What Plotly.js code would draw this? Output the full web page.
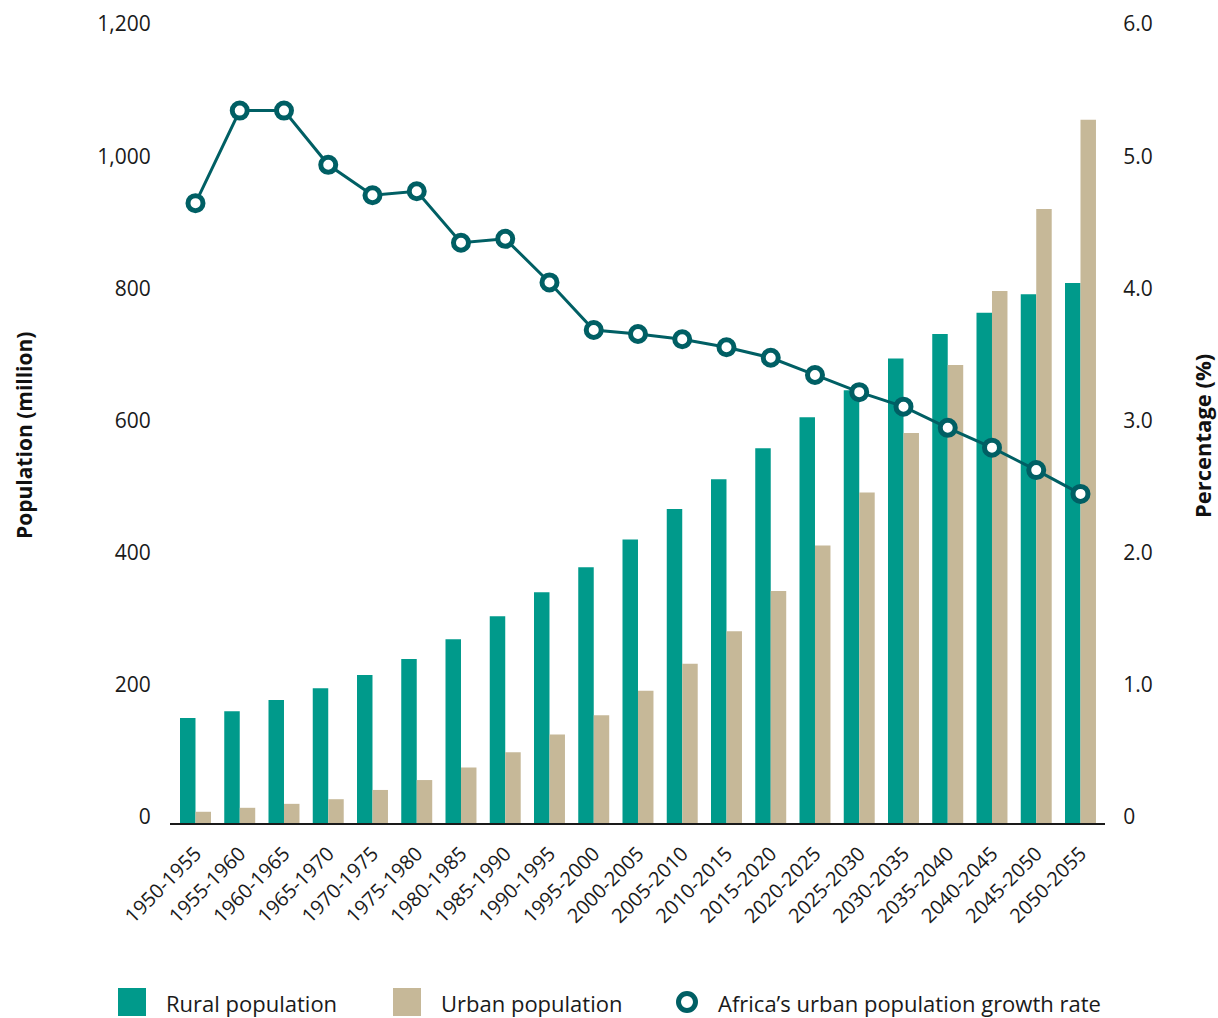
<!DOCTYPE html>
<html>
<head>
<meta charset="utf-8">
<script src="https://cdn.plot.ly/plotly-3.0.1.min.js"></script>
<style>
  html, body { margin: 0; padding: 0; background: #ffffff; }
  #chart { width: 1218px; height: 1018px; }
</style>
</head>
<body>
<div id="chart"></div>
<script>
const periods = ["1950-1955","1955-1960","1960-1965","1965-1970","1970-1975","1975-1980","1980-1985","1985-1990","1990-1995","1995-2000","2000-2005","2005-2010","2010-2015","2015-2020","2020-2025","2025-2030","2030-2035","2035-2040","2040-2045","2045-2050","2050-2055"];
const ruralPopulation = [159,169,186,204,224,248,278,313,349,387,429,475,520,567,614,655,703,740,772,800,817];
const urbanPopulation = [17,23,29,36,50,65,84,107,134,163,200,241,290,351,420,500,590,693,805,929,1064];
const urbanGrowthRate = [4.69,5.39,5.39,4.98,4.75,4.78,4.39,4.42,4.09,3.73,3.70,3.66,3.60,3.52,3.39,3.26,3.15,2.99,2.84,2.67,2.49];
const leftTickVals = [0,200,400,600,800,1000,1200];
const leftTickText = ["0","200","400","600","800","1,000","1,200"];
const rightTickVals = [0,1,2,3,4,5,6];
const rightTickText = ["0","1.0","2.0","3.0","4.0","5.0","6.0"];
const legendLabels = ["Rural population","Urban population","Africa\u2019s urban population growth rate"];
const axisTitles = ["Population (million)", "Percentage (%)"];

const ruralColor = "#009A8B";
const urbanColor = "#C6B898";
const lineColor = "#005F64";
const FONT = "Open Sans, Noto Sans, sans-serif";

const traces = [
  { type: "bar", name: legendLabels[0], x: periods, y: ruralPopulation, marker: { color: ruralColor }, showlegend: false, hoverinfo: "x+y" },
  { type: "bar", name: legendLabels[1], x: periods, y: urbanPopulation, marker: { color: urbanColor }, showlegend: false, hoverinfo: "x+y" },
  { type: "scatter", mode: "lines+markers", name: legendLabels[2], x: periods, y: urbanGrowthRate, yaxis: "y2",
    line: { color: lineColor, width: 3 },
    marker: { symbol: "circle", size: 15, color: "#ffffff", line: { color: lineColor, width: 5 } },
    showlegend: false }
];

const W = 935, H = 793, L = 170, T = 30;
const px = v => (v - L) / W;
const py = v => (T + H - v) / H;

const layout = {
  width: 1218, height: 1018,
  margin: { l: L, r: 1218 - L - W, t: T, b: 1018 - T - H, pad: 0 },
  paper_bgcolor: "#ffffff", plot_bgcolor: "#ffffff",
  font: { family: FONT, color: "#1a1a1a", size: 21 },
  barmode: "group", bargap: 0.3, bargroupgap: 0,
  showlegend: false,
  xaxis: {
    type: "category", range: [-0.576, 20.554],
    showline: true, linecolor: "#1a1a1a", linewidth: 2,
    showgrid: false, zeroline: false,
    ticks: "outside", ticklen: 9, tickcolor: "rgba(0,0,0,0)",
    tickangle: -45, tickfont: { family: FONT, size: 20, color: "#1a1a1a" },
    automargin: false
  },
  yaxis: {
    range: [0, 1200], tickvals: leftTickVals, ticktext: leftTickText,
    showline: false, showgrid: false, zeroline: false,
    ticks: "outside", ticklen: 14, tickcolor: "rgba(0,0,0,0)",
    ticklabelshift: -6,
    tickfont: { family: FONT, size: 21, color: "#1a1a1a" },
    automargin: false
  },
  yaxis2: {
    overlaying: "y", side: "right",
    range: [0, 6], tickvals: rightTickVals, ticktext: rightTickText,
    showline: false, showgrid: false, zeroline: false,
    ticks: "outside", ticklen: 13, tickcolor: "rgba(0,0,0,0)",
    ticklabelshift: -6,
    tickfont: { family: FONT, size: 21, color: "#1a1a1a" },
    automargin: false
  },
  shapes: [
    { type: "rect", xref: "paper", yref: "paper", x0: px(118), x1: px(146), y0: py(1016), y1: py(988), fillcolor: ruralColor, line: { width: 0 } },
    { type: "rect", xref: "paper", yref: "paper", x0: px(393), x1: px(421), y0: py(1016), y1: py(988), fillcolor: urbanColor, line: { width: 0 } },
    { type: "circle", xref: "paper", yref: "paper", xsizemode: "pixel", ysizemode: "pixel",
      xanchor: px(687), yanchor: py(1002), x0: -8.5, x1: 8.5, y0: -8.5, y1: 8.5,
      fillcolor: "#ffffff", line: { color: lineColor, width: 5 } }
  ],
  annotations: [
    { xref: "paper", yref: "paper", x: px(24), y: py(436), xanchor: "center", yanchor: "middle", textangle: -90, showarrow: false, text: axisTitles[0], font: { family: FONT, size: 21, weight: "bold", color: "#111" } },
    { xref: "paper", yref: "paper", x: px(1202), y: py(436), xanchor: "center", yanchor: "middle", textangle: -90, showarrow: false, text: axisTitles[1], font: { family: FONT, size: 22, weight: "bold", color: "#111" } },
    { xref: "paper", yref: "paper", x: px(164), y: py(1003), xanchor: "left", yanchor: "middle", showarrow: false, text: legendLabels[0], font: { family: FONT, size: 22, color: "#1a1a1a" } },
    { xref: "paper", yref: "paper", x: px(439), y: py(1003), xanchor: "left", yanchor: "middle", showarrow: false, text: legendLabels[1], font: { family: FONT, size: 22, color: "#1a1a1a" } },
    { xref: "paper", yref: "paper", x: px(716), y: py(1003), xanchor: "left", yanchor: "middle", showarrow: false, text: legendLabels[2], font: { family: FONT, size: 22, color: "#1a1a1a" } }
  ]
};

Plotly.newPlot("chart", traces, layout, { displayModeBar: false, staticPlot: true });
</script>
</body>
</html>
